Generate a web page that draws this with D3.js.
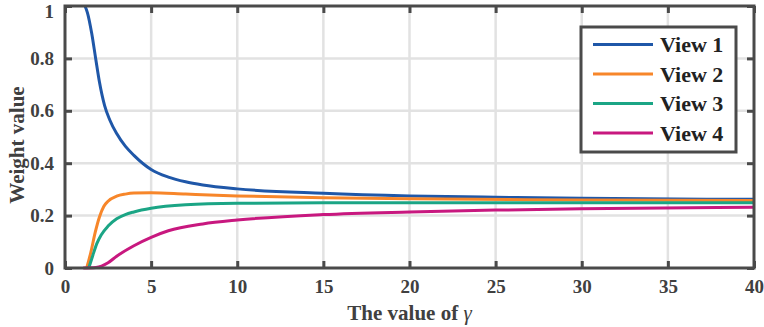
<!DOCTYPE html>
<html lang="en">
<head>
<meta charset="utf-8">
<script src="https://d3js.org/d3.v7.min.js"></script>
<style>
  body { margin: 0; background: #fff; }
  text { font-family: "Liberation Serif", "Times New Roman", serif; font-weight: bold; fill: #404040; }
</style>
</head>
<body>
<div id="graph"></div>
<script>

// values (gamma -> weight)
var gamma1 = [1.16, 1.3, 1.55, 1.78, 2.0, 2.3, 2.6, 3.0, 3.5, 4.0, 5, 6, 7, 8, 10, 15, 20, 25, 30, 40];
var view1  = [1.0, 0.975, 0.896, 0.80, 0.71, 0.62, 0.565, 0.513, 0.465, 0.43, 0.376, 0.347, 0.329, 0.317, 0.302, 0.285, 0.275, 0.27, 0.266, 0.262];

var gamma2 = [1.26, 1.5, 1.75, 2.0, 2.25, 2.5, 3.0, 3.5, 4.0, 5, 7, 10, 15, 20, 30, 40];
var view2  = [0, 0.06, 0.135, 0.195, 0.235, 0.255, 0.274, 0.282, 0.286, 0.287, 0.282, 0.275, 0.268, 0.264, 0.26, 0.258];

var gamma3 = [1.38, 1.6, 1.84, 2.1, 2.5, 3.0, 3.5, 4.0, 5, 7, 10, 15, 20, 30, 40];
var view3  = [0, 0.045, 0.092, 0.126, 0.16, 0.188, 0.204, 0.214, 0.228, 0.241, 0.247, 0.249, 0.249, 0.249, 0.249];

var gamma4 = [1.06, 1.8, 2.5, 3.0, 4.0, 5, 6, 8, 10, 15, 20, 25, 30, 40];
var view4  = [0, 0.002, 0.02, 0.045, 0.085, 0.117, 0.142, 0.168, 0.183, 0.204, 0.214, 0.221, 0.226, 0.232];

var seriesNames = ["View 1", "View 2", "View 3", "View 4"];
var colors = ["#1f57a8", "#f7862a", "#1ba585", "#c8187f"];
var xTicks = [0, 5, 10, 15, 20, 25, 30, 35, 40];
var yTicks = [0, 0.2, 0.4, 0.6, 0.8, 1];

var series = [
  {name: seriesNames[0], xs: gamma1, ys: view1},
  {name: seriesNames[1], xs: gamma2, ys: view2},
  {name: seriesNames[2], xs: gamma3, ys: view3},
  {name: seriesNames[3], xs: gamma4, ys: view4}
];

var W = 764, H = 327;
var margin = {top: 6, right: 10, bottom: 59, left: 65},
    width = W - margin.left - margin.right,
    height = H - margin.top - margin.bottom;

var svg = d3.select("#graph")
  .append("svg")
    .attr("width", W)
    .attr("height", H)
  .append("g")
    .attr("transform", "translate(" + margin.left + "," + margin.top + ")");

var x = d3.scaleLinear().domain([0, 40]).range([0, width]);
var y = d3.scaleLinear().domain([0, 1]).range([height, 0]);

// grid
svg.append("g").selectAll("line.gx")
  .data(xTicks.slice(1, -1))
  .enter().append("line")
    .attr("x1", d => x(d)).attr("x2", d => x(d))
    .attr("y1", 0).attr("y2", height)
    .style("stroke", "#e2e2e2").style("stroke-width", 2.5);

svg.append("g").selectAll("line.gy")
  .data(yTicks.slice(1, -1))
  .enter().append("line")
    .attr("x1", 0).attr("x2", width)
    .attr("y1", d => y(d)).attr("y2", d => y(d))
    .style("stroke", "#e2e2e2").style("stroke-width", 2.5);

// curves
var line = d3.line()
  .x(d => x(d[0]))
  .y(d => y(d[1]))
  .curve(d3.curveMonotoneX);

series.forEach(function(s, i) {
  svg.append("path")
    .datum(s.xs.map((g, j) => [g, s.ys[j]]))
    .attr("d", line)
    .style("fill", "none")
    .style("stroke", colors[i])
    .style("stroke-width", 3);
});

// axes (inward ticks on all four sides, box frame)
var axisColor = "#4a4a4a";
function styleAxis(g) {
  g.attr("font-family", "'Liberation Serif', serif");
  g.select(".domain").remove();
  g.selectAll(".tick line").style("stroke", axisColor).style("stroke-width", 3);
  g.selectAll(".tick text").style("font-size", "19px").style("fill", "#404040")
    .style("font-family", "'Liberation Serif', serif").style("font-weight", "bold");
}

svg.append("g")
  .attr("transform", "translate(0," + height + ")")
  .call(d3.axisBottom(x).tickValues(xTicks).tickFormat(d3.format("d")).tickSizeInner(-7).tickPadding(12))
  .call(styleAxis);

svg.append("g")
  .call(d3.axisTop(x).tickValues(xTicks).tickSizeInner(-7).tickFormat(""))
  .call(styleAxis);

var yAxisG = svg.append("g")
  .call(d3.axisLeft(y).tickValues(yTicks).tickFormat(d => d === 0 || d === 1 ? d : d3.format(".1f")(d)).tickSizeInner(-7).tickPadding(11))
  .call(styleAxis);

svg.append("g")
  .attr("transform", "translate(" + width + ",0)")
  .call(d3.axisRight(y).tickValues(yTicks).tickSizeInner(-7).tickFormat(""))
  .call(styleAxis);

// keep the top "1" label inside the picture
yAxisG.selectAll(".tick text").filter(d => d === 1).attr("dy", "0.6em");

svg.append("rect")
  .attr("width", width).attr("height", height)
  .style("fill", "none").style("stroke", axisColor).style("stroke-width", 3);

// axis labels
svg.append("text")
  .attr("text-anchor", "middle")
  .attr("x", width / 2)
  .attr("y", height + 52)
  .style("font-size", "21px")
  .text("The value of ")
  .append("tspan")
    .style("font-style", "italic").style("font-weight", "normal")
    .text("γ");

svg.append("text")
  .attr("text-anchor", "middle")
  .attr("transform", "rotate(-90)")
  .attr("x", -height / 2 - 8)
  .attr("y", -margin.left + 24)
  .style("font-size", "21px")
  .text("Weight value");

// legend
var lg = svg.append("g").attr("transform", "translate(" + (581 - margin.left) + "," + (27 - margin.top) + ")");
lg.append("rect")
  .attr("width", 155).attr("height", 125)
  .style("fill", "#fff").style("stroke", axisColor).style("stroke-width", 3);

seriesNames.forEach(function(n, i) {
  var yy = 17.5 + i * 29.5;
  lg.append("line")
    .attr("x1", 12).attr("x2", 72)
    .attr("y1", yy).attr("y2", yy)
    .style("stroke", colors[i]).style("stroke-width", 3);
  lg.append("text")
    .attr("x", 79).attr("y", yy)
    .attr("dy", "0.35em")
    .style("font-size", "22px")
    .style("fill", "#222")
    .text(n);
});

</script>
</body>
</html>
